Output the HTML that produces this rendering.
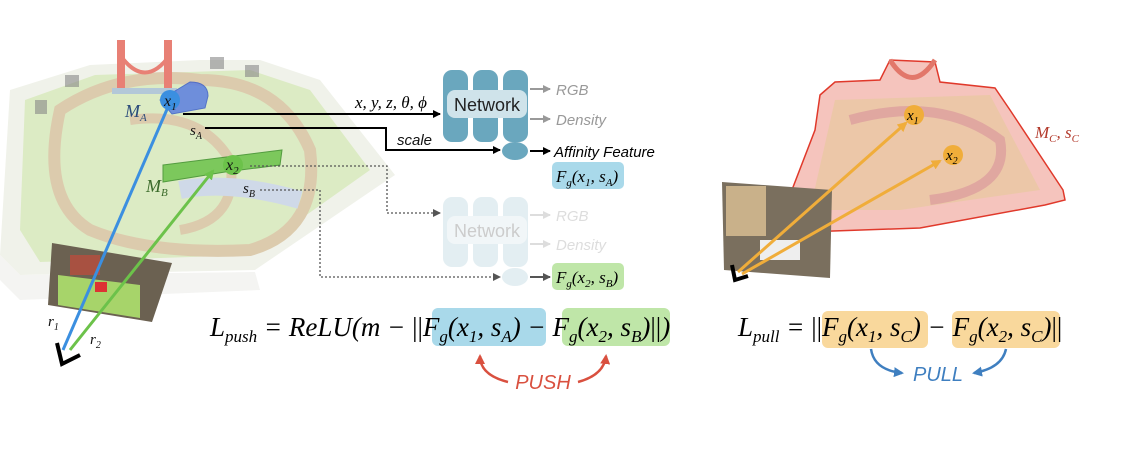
<!DOCTYPE html>
<html><head><meta charset="utf-8"><style>
html,body{margin:0;padding:0;background:#fff;}
svg{display:block}
.s{font-family:"Liberation Serif",serif;font-style:italic}
.a{font-family:"Liberation Sans",sans-serif;font-style:italic}
.n{font-style:normal}
</style></head><body>
<svg width="1130" height="456" viewBox="0 0 1130 456" xmlns="http://www.w3.org/2000/svg">
<defs>
<marker id="ab" markerWidth="8" markerHeight="8" refX="7" refY="4" orient="auto" markerUnits="userSpaceOnUse"><path d="M0,0 L8,4 L0,8z" fill="#000"/></marker>
<marker id="ag" markerWidth="8" markerHeight="8" refX="7" refY="4" orient="auto" markerUnits="userSpaceOnUse"><path d="M0,0 L8,4 L0,8z" fill="#999"/></marker>
<marker id="al" markerWidth="8" markerHeight="8" refX="7" refY="4" orient="auto" markerUnits="userSpaceOnUse"><path d="M0,0 L8,4 L0,8z" fill="#ddd"/></marker>
<marker id="ad" markerWidth="8" markerHeight="8" refX="7" refY="4" orient="auto" markerUnits="userSpaceOnUse"><path d="M0,0 L8,4 L0,8z" fill="#555"/></marker>
<marker id="ar" markerWidth="10" markerHeight="10" refX="8" refY="5" orient="auto" markerUnits="userSpaceOnUse"><path d="M0,0 L10,5 L0,10z" fill="#d9503f"/></marker>
<marker id="au" markerWidth="10" markerHeight="10" refX="8" refY="5" orient="auto" markerUnits="userSpaceOnUse"><path d="M0,0 L10,5 L0,10z" fill="#3f7fc0"/></marker>
<marker id="ay" markerWidth="10" markerHeight="10" refX="8" refY="5" orient="auto" markerUnits="userSpaceOnUse"><path d="M0,0 L10,5 L0,10z" fill="#f0ad3a"/></marker>
<marker id="agr" markerWidth="10" markerHeight="10" refX="8" refY="5" orient="auto" markerUnits="userSpaceOnUse"><path d="M0,0 L10,5 L0,10z" fill="#6cc24a"/></marker>
</defs>

<!-- LEFT BOARD -->
<polygon points="10,90 90,65 200,60 260,60 320,80 395,175 380,185 255,270 20,275 0,255" fill="#f0f2ea"/>
<polygon points="25,100 95,75 250,70 310,90 370,170 250,255 40,262 20,230" fill="#dcebc4"/>
<path d="M60,110 Q120,70 200,80 Q280,80 310,150 Q320,230 250,250 Q150,255 90,230 Q40,200 60,110z" fill="none" stroke="#dccbad" stroke-width="12"/>
<path d="M130,120 Q200,110 230,160 Q240,220 180,230" fill="none" stroke="#dccbad" stroke-width="10"/>
<path d="M180,190 Q230,180 300,200" fill="none" stroke="#cfd9e8" stroke-width="18"/>
<polygon points="0,255 20,275 255,272 260,290 20,300 0,280" fill="#f4f4f2"/>
<g fill="#e88075"><rect x="117" y="40" width="8" height="50"/><rect x="164" y="40" width="8" height="50"/><path d="M120,55 Q145,90 170,55" fill="none" stroke="#e88075" stroke-width="4"/><rect x="112" y="88" width="65" height="6" fill="#b3c8d8"/></g>
<g fill="#888" opacity="0.6"><rect x="35" y="100" width="12" height="14"/><rect x="65" y="75" width="14" height="12"/><rect x="210" y="57" width="14" height="12"/><rect x="245" y="65" width="14" height="12"/></g>
<!-- masks -->
<path d="M160,100 L190,82 Q208,82 208,96 L205,108 L172,114z" fill="#5b7ee0" opacity="0.85" stroke="#3c5ec8"/>
<polygon points="163,165 282,150 280,165 225,172 163,182" fill="#6cc24a" opacity="0.85" stroke="#3c8f2a"/>
<!-- photo left -->
<polygon points="52,243 172,263 152,322 48,305" fill="#6b6151"/>
<polygon points="58,275 140,285 140,318 58,305" fill="#a7d46a"/>
<rect x="70" y="255" width="30" height="20" fill="#c24a3a" opacity="0.7"/>
<rect x="95" y="282" width="12" height="10" fill="#d33"/>
<!-- rays -->
<line x1="63" y1="350" x2="171" y2="100" stroke="#3b8fe0" stroke-width="3"/>
<line x1="70" y1="350" x2="213" y2="171" stroke="#6cc24a" stroke-width="3" marker-end="url(#agr)"/>
<circle cx="170" cy="100" r="10" fill="#3b8fe0"/>
<text x="164" y="106" class="s" font-size="16" fill="#111">x<tspan font-size="11" dy="4">1</tspan></text>
<circle cx="233" cy="165" r="10" fill="#6cc24a"/>
<text x="226" y="170" class="s" font-size="16" fill="#111">x<tspan font-size="11" dy="4">2</tspan></text>
<text x="125" y="117" class="s" font-size="18" fill="#2a4a7a">M<tspan font-size="11" dy="4">A</tspan></text>
<text x="146" y="192" class="s" font-size="18" fill="#3a6a2a">M<tspan font-size="11" dy="4">B</tspan></text>
<text x="190" y="135" class="s" font-size="15" fill="#111">s<tspan font-size="10" dy="4">A</tspan></text>
<text x="243" y="193" class="s" font-size="15" fill="#111">s<tspan font-size="10" dy="4">B</tspan></text>
<text x="48" y="326" class="s" font-size="15" fill="#111">r<tspan font-size="10" dy="4">1</tspan></text>
<text x="90" y="344" class="s" font-size="15" fill="#111">r<tspan font-size="10" dy="4">2</tspan></text>
<path d="M57,343 L62,364 L80,355" fill="none" stroke="#000" stroke-width="4"/>

<!-- connectors -->
<line x1="183" y1="114" x2="440" y2="114" stroke="#000" stroke-width="2" marker-end="url(#ab)"/>
<polyline points="205,128 386,128 386,150 500,150" fill="none" stroke="#000" stroke-width="2" marker-end="url(#ab)"/>
<polyline points="250,166 387,166 387,213 440,213" fill="none" stroke="#555" stroke-width="1.3" stroke-dasharray="2,2" marker-end="url(#ad)"/>
<polyline points="260,190 320,190 320,277 500,277" fill="none" stroke="#555" stroke-width="1.3" stroke-dasharray="2,2" marker-end="url(#ad)"/>
<text x="355" y="108" class="s" font-size="17" fill="#000">x, y, z, θ, ϕ</text>
<text x="397" y="145" class="a" font-size="15" fill="#111">scale</text>

<!-- network 1 -->
<g fill="#6aa7be"><rect x="443" y="70" width="25" height="72" rx="9"/><rect x="473" y="70" width="25" height="72" rx="9"/><rect x="503" y="70" width="25" height="72" rx="9"/></g>
<rect x="447" y="90" width="80" height="28" rx="8" fill="#cfe3ea"/>
<text x="487" y="111" font-family="Liberation Sans,sans-serif" font-size="18" text-anchor="middle" fill="#222">Network</text>
<ellipse cx="515" cy="151" rx="13" ry="9" fill="#6aa7be"/>
<line x1="530" y1="89" x2="550" y2="89" stroke="#999" stroke-width="2" marker-end="url(#ag)"/>
<line x1="530" y1="119" x2="550" y2="119" stroke="#999" stroke-width="2" marker-end="url(#ag)"/>
<line x1="530" y1="151" x2="550" y2="151" stroke="#000" stroke-width="2" marker-end="url(#ab)"/>
<text x="556" y="95" class="a" font-size="15" fill="#999">RGB</text>
<text x="556" y="125" class="a" font-size="15" fill="#999">Density</text>
<text x="554" y="157" class="a" font-size="15" fill="#000">Affinity Feature</text>
<rect x="552" y="162" width="72" height="27" rx="5" fill="#a9d9ea"/>
<text x="556" y="182" class="s" font-size="17">F<tspan font-size="11" dy="4">g</tspan><tspan dy="-4">(x</tspan><tspan font-size="11" dy="4">1</tspan><tspan dy="-4">, s</tspan><tspan font-size="11" dy="4">A</tspan><tspan dy="-4">)</tspan></text>

<!-- network 2 faded -->
<g fill="#e3eef2"><rect x="443" y="197" width="25" height="70" rx="9"/><rect x="473" y="197" width="25" height="70" rx="9"/><rect x="503" y="197" width="25" height="70" rx="9"/></g>
<rect x="447" y="216" width="80" height="28" rx="8" fill="#f1f6f8"/>
<text x="487" y="237" font-family="Liberation Sans,sans-serif" font-size="18" text-anchor="middle" fill="#ccc">Network</text>
<ellipse cx="515" cy="277" rx="13" ry="9" fill="#e3eef2"/>
<line x1="530" y1="215" x2="550" y2="215" stroke="#ddd" stroke-width="2" marker-end="url(#al)"/>
<line x1="530" y1="244" x2="550" y2="244" stroke="#ddd" stroke-width="2" marker-end="url(#al)"/>
<line x1="530" y1="277" x2="550" y2="277" stroke="#555" stroke-width="2" marker-end="url(#ad)"/>
<text x="556" y="221" class="a" font-size="15" fill="#ddd">RGB</text>
<text x="556" y="250" class="a" font-size="15" fill="#ddd">Density</text>
<rect x="552" y="263" width="72" height="27" rx="5" fill="#bfe6a8"/>
<text x="556" y="283" class="s" font-size="17">F<tspan font-size="11" dy="4">g</tspan><tspan dy="-4">(x</tspan><tspan font-size="11" dy="4">2</tspan><tspan dy="-4">, s</tspan><tspan font-size="11" dy="4">B</tspan><tspan dy="-4">)</tspan></text>

<!-- push formula -->
<rect x="432" y="308" width="114" height="38" rx="6" fill="#a9d9ea"/>
<rect x="562" y="308" width="108" height="38" rx="6" fill="#bfe6a8"/>
<text x="210" y="336" class="s" font-size="27">L<tspan font-size="17" dy="6">push</tspan><tspan dy="-6"> = ReLU(m − </tspan><tspan class="n">||</tspan>F<tspan font-size="17" dy="6">g</tspan><tspan dy="-6">(x</tspan><tspan font-size="17" dy="6">1</tspan><tspan dy="-6">, s</tspan><tspan font-size="17" dy="6">A</tspan><tspan dy="-6">) − F</tspan><tspan font-size="17" dy="6">g</tspan><tspan dy="-6">(x</tspan><tspan font-size="17" dy="6">2</tspan><tspan dy="-6">, s</tspan><tspan font-size="17" dy="6">B</tspan><tspan dy="-6">)</tspan><tspan class="n">||</tspan>)</text>
<path d="M508,382 Q480,375 480,356" fill="none" stroke="#d9503f" stroke-width="2.5" marker-end="url(#ar)"/>
<path d="M578,382 Q604,375 606,356" fill="none" stroke="#d9503f" stroke-width="2.5" marker-end="url(#ar)"/>
<text x="543" y="389" class="a" font-size="20" fill="#d9503f" text-anchor="middle">PUSH</text>

<!-- RIGHT BOARD -->
<polygon points="820,95 835,82 880,80 890,60 935,62 940,82 995,88 1010,110 1063,190 1065,200 1045,205 920,228 805,232 790,195 815,130" fill="#f5c4bd" stroke="#e0392b" stroke-width="1.5"/>
<polygon points="835,100 990,95 1040,190 900,210 810,210" fill="#e8c9a0" opacity="0.7"/>
<path d="M850,120 Q940,95 1000,140 Q1010,190 930,200" fill="none" stroke="#e0a7a0" stroke-width="10"/>
<path d="M890,60 Q912,95 935,60" fill="none" stroke="#e2776a" stroke-width="5"/>
<polygon points="722,182 832,190 830,278 724,270" fill="#7a6f5e"/>
<rect x="726" y="186" width="40" height="50" fill="#c9b18a"/>
<rect x="760" y="240" width="40" height="20" fill="#eee"/>
<path d="M732,265 L735,280 L748,276" fill="none" stroke="#000" stroke-width="4"/>
<line x1="738" y1="272" x2="906" y2="123" stroke="#f0ad3a" stroke-width="3" marker-end="url(#ay)"/>
<line x1="742" y1="274" x2="940" y2="161" stroke="#f0ad3a" stroke-width="3" marker-end="url(#ay)"/>
<circle cx="914" cy="115" r="10" fill="#f0ad3a"/>
<text x="907" y="120" class="s" font-size="15">x<tspan font-size="10" dy="4">1</tspan></text>
<circle cx="953" cy="155" r="10" fill="#f0ad3a"/>
<text x="946" y="160" class="s" font-size="15">x<tspan font-size="10" dy="4">2</tspan></text>
<text x="1035" y="138" class="s" font-size="17" fill="#b33a2c">M<tspan font-size="11" dy="4">C</tspan><tspan dy="-4">, s</tspan><tspan font-size="11" dy="4">C</tspan></text>

<!-- pull formula -->
<rect x="822" y="311" width="106" height="37" rx="6" fill="#f9d89c"/>
<rect x="952" y="311" width="108" height="37" rx="6" fill="#f9d89c"/>
<text x="738" y="336" class="s" font-size="27">L<tspan font-size="17" dy="6">pull</tspan><tspan dy="-6"> = </tspan><tspan class="n">||</tspan>F<tspan font-size="17" dy="6">g</tspan><tspan dy="-6">(x</tspan><tspan font-size="17" dy="6">1</tspan><tspan dy="-6">, s</tspan><tspan font-size="17" dy="6">C</tspan><tspan dy="-6">) − F</tspan><tspan font-size="17" dy="6">g</tspan><tspan dy="-6">(x</tspan><tspan font-size="17" dy="6">2</tspan><tspan dy="-6">, s</tspan><tspan font-size="17" dy="6">C</tspan><tspan dy="-6">)</tspan><tspan class="n">||</tspan></text>
<path d="M871,349 Q874,370 902,373" fill="none" stroke="#3f7fc0" stroke-width="2.5" marker-end="url(#au)"/>
<path d="M1006,349 Q1002,368 974,373" fill="none" stroke="#3f7fc0" stroke-width="2.5" marker-end="url(#au)"/>
<text x="938" y="381" class="a" font-size="20" fill="#3f7fc0" text-anchor="middle">PULL</text>
</svg>
</body></html>
